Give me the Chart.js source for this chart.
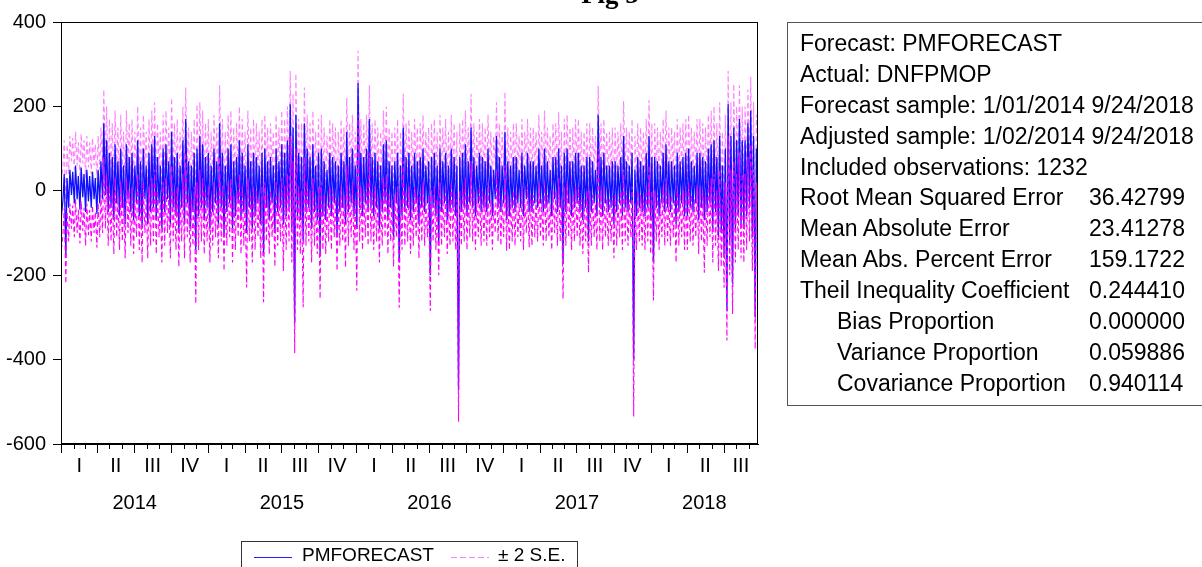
<!DOCTYPE html>
<html>
<head>
<meta charset="utf-8">
<script src="https://cdn.jsdelivr.net/npm/chart.js@4.4.0/dist/chart.umd.min.js"></script>
<style>
    html, body { margin: 0; padding: 0; background: #fff; }
    body { width: 1202px; height: 567px; position: relative; overflow: hidden;
           font-family: "Liberation Sans", Arial, sans-serif; color: #000; }
    #forecastChart { position: absolute; left: 0; top: 0; }
    .fig-title { position: absolute; left: 560px; width: 100px; top: -21px; line-height: 30px;
                 text-align: center; font: bold 27px "Liberation Serif", "Times New Roman", serif; }
    .stats { position: absolute; left: 787px; top: 22px; width: 470px; height: 384px;
             border: 1px solid #555; border-right: none; font-size: 23px; padding-top: 5px; box-sizing: border-box; }
    .stats .row { position: relative; height: 30.9px; line-height: 30.9px; white-space: nowrap; }
    .stats .lab { position: absolute; left: 12px; }
    .stats .lab.indent { left: 49px; }
    .stats .val { position: absolute; left: 301px; }
    .legend { position: absolute; left: 241px; top: 541px; width: 335px; height: 40px;
              border: 1px solid #333; font-size: 19px; }
    .legend .sample { position: absolute; top: 15px; width: 38px; height: 1px; }
    .legend .solid { left: 12px; background: #2020ff; }
    .legend .dashed { left: 209px; background: repeating-linear-gradient(to right, #ff80ff 0 6px, transparent 6px 9px); }
    .legend .ltext { position: absolute; top: 2px; line-height: 22px; white-space: nowrap; }
</style>
</head>
<body>
<canvas id="forecastChart" width="1202" height="567"></canvas>
<div class="fig-title">Fig 5</div>

<div class="stats">
    <div class="row"><span class="lab">Forecast: PMFORECAST</span></div>
    <div class="row"><span class="lab">Actual: DNFPMOP</span></div>
    <div class="row"><span class="lab">Forecast sample: 1/01/2014 9/24/2018</span></div>
    <div class="row"><span class="lab">Adjusted sample: 1/02/2014 9/24/2018</span></div>
    <div class="row"><span class="lab">Included observations: 1232</span></div>
    <div class="row"><span class="lab">Root Mean Squared Error</span><span class="val">36.42799</span></div>
    <div class="row"><span class="lab">Mean Absolute Error</span><span class="val">23.41278</span></div>
    <div class="row"><span class="lab">Mean Abs. Percent Error</span><span class="val">159.1722</span></div>
    <div class="row"><span class="lab">Theil Inequality Coefficient</span><span class="val">0.244410</span></div>
    <div class="row"><span class="lab indent">Bias Proportion</span><span class="val">0.000000</span></div>
    <div class="row"><span class="lab indent">Variance Proportion</span><span class="val">0.059886</span></div>
    <div class="row"><span class="lab indent">Covariance Proportion</span><span class="val">0.940114</span></div>
</div>

<div class="legend">
    <span class="sample solid"></span><span class="ltext" style="left:60px">PMFORECAST</span>
    <span class="sample dashed"></span><span class="ltext" style="left:256px">± 2 S.E.</span>
</div>

<script>
// twice-weekly readings of the daily forecast (1/02/2014 .. 9/24/2018)
const forecast = [
    -60, -20, 40, -150, 30, -40, 50, -10, 45, -30, 60, -20, 35, -45, 55, -15, 40, -50, 50, -25,
    35, -40, 45, -20, 30, -55, 50, -30, 70, -20, 160, -10, 120, -50, 90, -40, 80, -70, 110, -30,
    70, -60, 100, -40, 60, -80, 110, -20, 80, -50, 90, -70, 60, -30, 120, -60, 70, -90, 100, -20,
    60, -80, 90, -50, 110, -40, 130, -70, 80, -30, 60, -90, 100, -50, 110, -20, 70, -80, 140, -40,
    80, -60, 90, -100, 60, -40, 120, -80, 170, -30, 70, -90, 60, -50, 90, -140, 100, -60, 130, -40,
    110, -70, 80, -40, 90, -90, 60, -50, 100, -30, 70, -80, 160, -40, 90, -110, 60, -50, 100, -30,
    110, -90, 70, -60, 80, -30, 120, -70, 90, -50, 60, -100, 110, -40, 70, -90, 90, -60, 80, -30,
    60, -80, 90, -150, 100, -40, 70, -70, 80, -30, 60, -100, 100, -50, 70, -40, 110, -80, 90, -60,
    120, -40, 205, -90, 150, -315, 180, -60, 90, -70, 80, -120, 160, -50, 100, -40, 80, -90, 110, -50,
    60, -70, 90, -150, 100, -60, 70, -70, 50, -40, 90, -60, 80, -30, 70, -110, 60, -50, 90, -40,
    70, -80, 140, -50, 80, -30, 100, -60, 60, -90, 255, -40, 90, -60, 80, -30, 100, -50, 170, -40,
    80, -60, 90, -40, 70, -90, 60, -50, 110, -30, 120, -70, 70, -40, 60, -110, 70, -30, 90, -170,
    60, -60, 150, -50, 80, -40, 90, -70, 60, -50, 90, -30, 70, -80, 80, -40, 100, -50, 60, -30,
    70, -200, 80, -40, 90, -60, 60, -120, 100, -50, 70, -30, 90, -70, 60, -50, 100, -40, 80, -60,
    60, -470, 80, -50, 90, -40, 110, -60, 70, -30, 150, -40, 80, -60, 60, -30, 90, -50, 80, -40,
    70, -50, 100, -30, 60, -60, 50, -20, 130, -40, 80, -50, 60, -30, 140, -70, 70, -60, 60, -40,
    80, -50, 80, -30, 50, -40, 90, -60, 60, -20, 90, -50, 70, -50, 70, -30, 60, -40, 100, -30,
    60, -50, 100, -40, 70, -30, 50, -60, 80, -20, 80, -50, 100, -40, 60, -170, 90, -50, 100, -30,
    70, -60, 70, -40, 90, -30, 90, -50, 60, -70, 60, -40, 80, -120, 80, -50, 70, -30, 50, -60,
    180, -40, 80, -60, 90, -30, 60, -50, 60, -40, 70, -80, 70, -50, 60, -30, 80, -60, 130, -40,
    70, -50, 60, -30, 90, -400, 50, -60, 80, -40, 70, -50, 60, -60, 90, -40, 130, -70, 80, -170,
    80, -40, 70, -60, 60, -30, 90, -50, 110, -40, 70, -50, 70, -30, 60, -80, 90, -50, 70, -30,
    80, -60, 90, -60, 100, -40, 70, -50, 60, -30, 90, -70, 90, -40, 80, -70, 70, -50, 100, -30,
    110, -90, 120, -50, 80, -110, 130, -100, 60, -150, 100, -285, 205, -120, 130, -220, 150, -90, 120, -60,
    170, -80, 120, -90, 120, -60, 160, -40, 190, -110, 130, -300, 100, -20
];

const upperBand = [
    20, 60, 120, -70, 110, 40, 130, 70, 125, 50, 140, 60, 115, 35, 135, 65, 120, 30, 130, 55,
    115, 40, 125, 60, 110, 25, 130, 50, 150, 60, 240, 70, 200, 30, 170, 40, 160, 10, 190, 50,
    150, 20, 180, 40, 140, 0, 190, 60, 160, 30, 170, 10, 140, 50, 200, 20, 150, -10, 180, 60,
    140, 0, 170, 30, 190, 40, 210, 10, 160, 50, 140, -10, 180, 30, 190, 60, 150, 0, 220, 40,
    160, 20, 170, -20, 140, 40, 200, 0, 245, 50, 150, -10, 140, 30, 170, -60, 205, 20, 210, 40,
    190, 10, 160, 40, 170, -10, 140, 30, 180, 50, 150, 0, 250, 40, 170, -30, 140, 30, 180, 50,
    190, -10, 150, 20, 160, 50, 200, 10, 170, 30, 140, -20, 190, 40, 150, -10, 170, 20, 160, 50,
    140, 0, 170, -70, 180, 40, 150, 10, 160, 50, 140, -20, 180, 30, 150, 40, 190, 0, 170, 20,
    200, 40, 284, -10, 230, -240, 278, 20, 170, 10, 160, -40, 245, 30, 180, 40, 160, -10, 190, 30,
    140, 10, 170, -70, 180, 20, 150, 10, 130, 40, 170, 20, 160, 50, 150, -30, 140, 30, 170, 40,
    150, 0, 220, 30, 160, 50, 180, 20, 140, -10, 332, 40, 170, 20, 160, 50, 180, 30, 250, 40,
    160, 20, 170, 40, 150, -10, 140, 30, 190, 50, 200, 10, 150, 40, 140, -30, 150, 50, 170, -90,
    140, 20, 230, 30, 160, 40, 170, 10, 140, 30, 170, 50, 150, 0, 160, 40, 180, 30, 140, 50,
    150, -120, 160, 40, 170, 20, 140, -40, 180, 30, 150, 50, 170, 10, 140, 30, 180, 40, 160, 20,
    140, -400, 160, 30, 170, 40, 190, 20, 150, 50, 230, 40, 160, 20, 140, 50, 170, 30, 160, 40,
    150, 30, 180, 50, 140, 20, 130, 60, 210, 40, 160, 30, 140, 50, 235, 10, 150, 20, 140, 40,
    160, 30, 160, 50, 130, 40, 170, 20, 140, 60, 170, 30, 150, 30, 150, 50, 140, 40, 180, 50,
    140, 30, 190, 40, 150, 50, 130, 20, 160, 60, 160, 30, 186, 40, 140, -90, 170, 30, 180, 50,
    150, 20, 150, 40, 170, 50, 170, 30, 140, 10, 140, 40, 160, -40, 160, 30, 150, 50, 130, 20,
    249, 40, 160, 20, 170, 50, 140, 30, 140, 40, 150, 0, 150, 30, 140, 50, 160, 20, 213, 40,
    150, 30, 140, 50, 170, -330, 130, 20, 160, 40, 150, 30, 140, 20, 170, 40, 215, 10, 160, -90,
    160, 40, 150, 20, 140, 50, 170, 30, 190, 40, 150, 30, 150, 50, 140, 0, 170, 30, 150, 50,
    160, 20, 170, 20, 180, 40, 150, 30, 140, 50, 170, 10, 170, 40, 160, 10, 150, 30, 180, 50,
    190, -10, 200, 30, 160, -30, 210, -20, 140, -70, 180, -215, 284, -40, 210, -150, 253, -10, 200, 20,
    250, 0, 200, -10, 200, 20, 240, 40, 270, -30, 210, -230, 180, 60
];

const lowerBand = [
    -140, -100, -40, -220, -50, -120, -30, -90, -35, -110, -20, -100, -45, -125, -25, -95, -40, -130, -30, -105,
    -45, -120, -35, -100, -50, -135, -30, -110, -10, -100, 80, -90, 40, -130, 10, -120, 0, -150, 30, -110,
    -10, -140, 20, -120, -20, -160, 30, -100, 0, -130, 10, -150, -20, -110, 40, -140, -10, -170, 20, -100,
    -20, -160, 10, -130, 30, -120, 50, -150, 0, -110, -20, -170, 20, -130, 30, -100, -10, -160, 60, -120,
    0, -140, 10, -180, -20, -120, 40, -160, 90, -110, -10, -170, -20, -130, 10, -268, 20, -140, 50, -120,
    30, -150, 0, -120, 10, -170, -20, -130, 20, -110, -10, -160, 80, -120, 10, -190, -20, -130, 20, -110,
    30, -170, -10, -140, 0, -110, 40, -150, 10, -130, -20, -229, 30, -120, -10, -170, 10, -140, 0, -110,
    -20, -160, 10, -264, 20, -120, -10, -150, 0, -110, -20, -180, 20, -130, -10, -120, 30, -190, 10, -140,
    40, -120, 130, -170, 70, -385, 100, -140, 10, -150, 0, -276, 80, -130, 20, -120, 0, -170, 30, -130,
    -20, -150, 10, -256, 20, -140, -10, -150, -30, -120, 10, -140, 0, -110, -10, -190, -20, -130, 10, -120,
    -10, -182, 60, -130, 0, -110, 20, -140, -20, -237, 180, -120, 10, -140, 0, -110, 20, -130, 90, -120,
    0, -140, 10, -120, -10, -170, -20, -130, 30, -110, 40, -150, -10, -120, -20, -180, -10, -110, 10, -277,
    -20, -140, 70, -130, 0, -120, 10, -150, -20, -130, 10, -110, -10, -160, 0, -120, 20, -130, -20, -110,
    -10, -285, 0, -120, 10, -140, -20, -200, 20, -130, -10, -110, 10, -150, -20, -130, 20, -120, 0, -140,
    -20, -547, 0, -130, 10, -120, 30, -140, -10, -110, 70, -120, 0, -140, -20, -110, 10, -130, 0, -120,
    -10, -130, 20, -110, -20, -140, -30, -100, 50, -120, 0, -130, -20, -110, 60, -142, -10, -140, -20, -120,
    0, -130, 0, -110, -30, -120, 10, -140, -20, -100, 10, -134, -10, -130, -10, -110, -20, -120, 20, -110,
    -20, -130, 20, -120, -10, -110, -30, -140, 0, -100, 0, -130, 30, -120, -20, -256, 10, -130, 20, -110,
    -10, -140, -10, -120, 10, -110, 10, -130, -20, -150, -20, -120, 0, -194, 0, -130, -10, -110, -30, -140,
    100, -120, 0, -140, 10, -110, -20, -130, -20, -120, -10, -160, -10, -130, -20, -110, 0, -140, 50, -120,
    -10, -130, -20, -110, 10, -535, -30, -140, 0, -120, -10, -130, -20, -140, 10, -120, 60, -150, 0, -260,
    0, -120, -10, -140, -20, -110, 10, -130, 30, -120, -10, -130, -10, -110, -20, -170, 10, -130, -10, -110,
    0, -140, 10, -140, 20, -120, -10, -130, -20, -110, 10, -150, 10, -120, 0, -194, -10, -130, 20, -110,
    30, -170, 40, -130, 0, -190, 50, -180, -20, -230, 20, -355, 130, -200, 50, -292, 70, -170, 40, -140,
    90, -160, 40, -170, 40, -140, 80, -120, 110, -190, 50, -375, 20, -194
];

const quarterNames = ['I', 'II', 'III', 'IV'];
const yearNames = ['2014', '2015', '2016', '2017', '2018'];
const yTicks = [-600, -400, -200, 0, 200, 400];

const DAY = 86400000;
const origin = Date.UTC(2014, 0, 1);
const dayOf = (y, m, d) => Math.round((Date.UTC(y, m, d) - origin) / DAY);
const axisEnd = dayOf(2018, 8, 24);
const firstObs = dayOf(2014, 0, 2);

// two readings per week from the first observation
const obsDays = forecast.map((_, i) => firstObs + Math.round(i * 3.5));
const toPoints = vals => vals.map((v, i) => ({ x: obsDays[i], y: v }));

// month starts on the time axis
const monthStarts = [];
for (let m = 0; dayOf(2014, m, 1) <= axisEnd; m++) monthStarts.push(dayOf(2014, m, 1));

// quarter label positions (centre of the visible part of each quarter)
const quarterMids = [];
for (let q = 0; q * 3 < monthStarts.length; q++) {
    const start = dayOf(2014, q * 3, 1);
    const end = Math.min(dayOf(2014, q * 3 + 3, 1), axisEnd);
    quarterMids.push((start + end) / 2);
}

const axisFont = { family: '"Liberation Sans", Arial, sans-serif', size: 20 };

// frame, monthly ticks and year labels
const timeAxisDecor = {
    id: 'timeAxisDecor',
    afterDraw(chart) {
        const { ctx, chartArea: a, scales: { x } } = chart;
        ctx.save();
        ctx.strokeStyle = '#000';
        ctx.lineWidth = 1;
        ctx.strokeRect(a.left + 0.5, a.top + 0.5, a.right - a.left - 1, a.bottom - a.top - 1);

        monthStarts.forEach((d, i) => {
            const px = Math.round(x.getPixelForValue(d)) + 0.5;
            const len = i % 3 === 0 ? 9 : 5;
            ctx.beginPath();
            ctx.moveTo(px, a.bottom);
            ctx.lineTo(px, a.bottom + len);
            ctx.stroke();
        });

        ctx.fillStyle = '#000';
        ctx.font = '20px "Liberation Sans", Arial, sans-serif';
        ctx.textAlign = 'center';
        ctx.textBaseline = 'middle';
        yearNames.forEach((yr, i) => {
            const start = dayOf(2014 + i, 0, 1);
            const end = Math.min(dayOf(2015 + i, 0, 1), axisEnd);
            ctx.fillText(yr, x.getPixelForValue((start + end) / 2), 503);
        });
        ctx.restore();
    }
};

const ctx = document.getElementById('forecastChart').getContext('2d');
const forecastChart = new Chart(ctx, {
    type: 'line',
    data: {
        datasets: [{
            label: '-2 S.E.',
            data: toPoints(lowerBand),
            borderColor: '#ff00ff',
            borderWidth: 1.1,
            borderDash: [5, 3],
            order: 0
        }, {
            label: 'PMFORECAST',
            data: toPoints(forecast),
            borderColor: '#1010ff',
            borderWidth: 1.3,
            order: 1
        }, {
            label: '+2 S.E.',
            data: toPoints(upperBand),
            borderColor: '#ff80ff',
            borderWidth: 1.1,
            borderDash: [5, 3],
            order: 2
        }]
    },
    options: {
        responsive: false,
        animation: false,
        devicePixelRatio: 1,
        layout: { padding: { top: 22, right: 444, left: 0, bottom: 0 } },
        elements: { point: { radius: 0 }, line: { tension: 0 } },
        plugins: { legend: { display: false }, tooltip: { enabled: false }, title: { display: false } },
        scales: {
            x: {
                type: 'linear',
                min: 0,
                max: axisEnd,
                grid: { display: false, drawTicks: false },
                border: { display: true, color: '#000' },
                ticks: {
                    autoSkip: false,
                    maxRotation: 0,
                    padding: 10,
                    color: '#000',
                    font: axisFont,
                    callback: (value, index) => quarterNames[index % 4]
                },
                afterBuildTicks: scale => { scale.ticks = quarterMids.map(v => ({ value: v })); },
                afterFit: scale => { scale.height = 123; }
            },
            y: {
                min: -600,
                max: 400,
                grid: { drawOnChartArea: false, drawTicks: true, tickLength: 8, color: '#000' },
                border: { display: true, color: '#000' },
                ticks: { padding: 7, color: '#000', font: axisFont },
                afterBuildTicks: scale => { scale.ticks = yTicks.map(v => ({ value: v })); },
                afterFit: scale => { scale.width = 61; }
            }
        }
    },
    plugins: [timeAxisDecor]
});
</script>
</body>
</html>
